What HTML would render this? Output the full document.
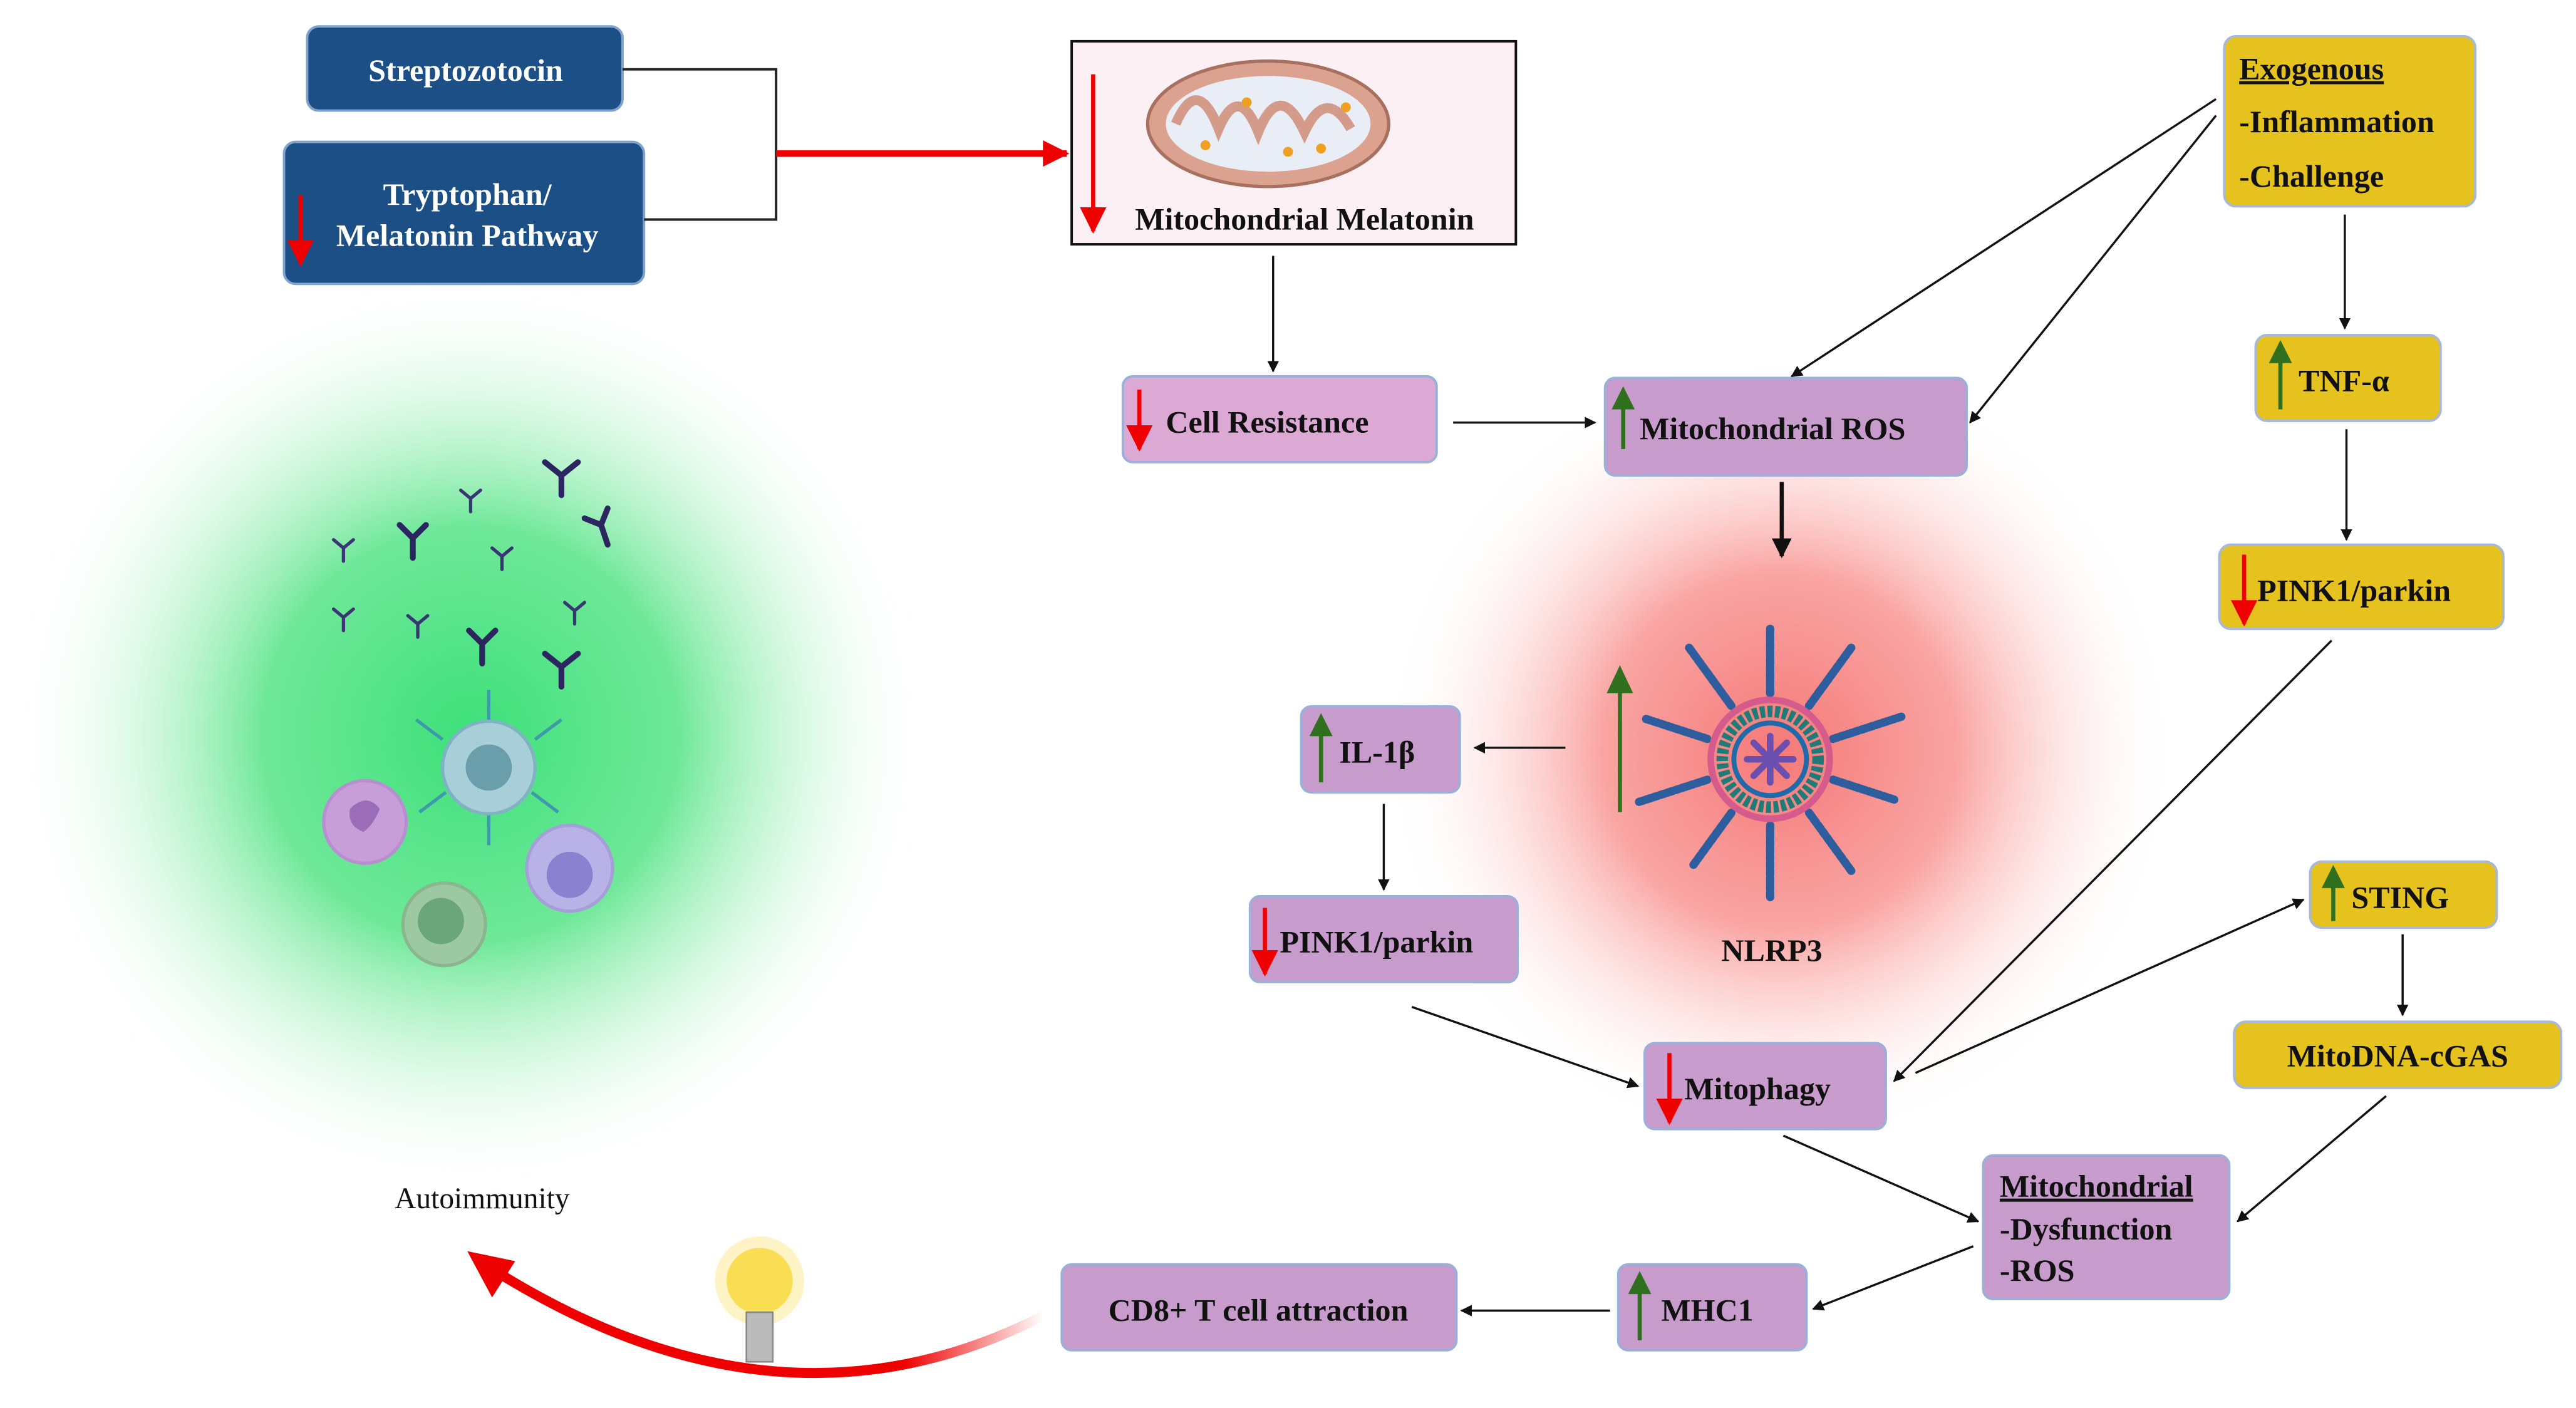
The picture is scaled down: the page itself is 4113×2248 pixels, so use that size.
<!DOCTYPE html>
<html><head><meta charset="utf-8"><style>
html,body{margin:0;padding:0;background:#fff;}
svg{display:block}
text{font-family:"Liberation Serif",serif;}
</style></head><body>
<svg width="4113" height="2248" viewBox="0 0 1560 853" preserveAspectRatio="none" xmlns="http://www.w3.org/2000/svg">
<defs>
<radialGradient id="gg"><stop offset="0" stop-color="#3ee07a"/><stop offset="0.45" stop-color="#6fe898"/><stop offset="1" stop-color="#fff" stop-opacity="0"/></radialGradient>
<radialGradient id="rg"><stop offset="0" stop-color="#f57a78"/><stop offset="0.45" stop-color="#f9a5a3"/><stop offset="1" stop-color="#fff" stop-opacity="0"/></radialGradient>
<linearGradient id="cg" x1="1" y1="0" x2="0" y2="0"><stop offset="0" stop-color="#e00" stop-opacity="0"/><stop offset="0.25" stop-color="#e00"/><stop offset="1" stop-color="#e00"/></linearGradient>
<marker id="a" viewBox="0 0 10 10" refX="9" refY="5" markerWidth="7" markerHeight="7" orient="auto" markerUnits="userSpaceOnUse"><path d="M0,0L10,5L0,10z" fill="#111"/></marker>
<marker id="ab" viewBox="0 0 10 10" refX="9" refY="5" markerWidth="12" markerHeight="12" orient="auto" markerUnits="userSpaceOnUse"><path d="M0,0L10,5L0,10z" fill="#111"/></marker>
<marker id="ar" viewBox="0 0 10 10" refX="9" refY="5" markerWidth="16" markerHeight="16" orient="auto" markerUnits="userSpaceOnUse"><path d="M0,0L10,5L0,10z" fill="#e00"/></marker>
</defs>
<circle cx="285" cy="445" r="280" fill="url(#gg)"/>
<circle cx="1078" cy="455" r="240" fill="url(#rg)"/>

<!-- top-left boxes -->
<rect x="186" y="16" width="191" height="51" rx="7" fill="#1b4f86" stroke="#7fa3cc" stroke-width="1.5"/>
<text x="282" y="49" font-size="19" fill="#fff" text-anchor="middle" font-weight="bold">Streptozotocin</text>
<rect x="172" y="86" width="218" height="86" rx="7" fill="#1b4f86" stroke="#7fa3cc" stroke-width="1.5"/>
<text x="283" y="124" font-size="19" fill="#fff" text-anchor="middle" font-weight="bold">Tryptophan/</text>
<text x="283" y="149" font-size="19" fill="#fff" text-anchor="middle" font-weight="bold">Melatonin Pathway</text>
<line x1="182" y1="118" x2="182" y2="160" stroke="#e00" stroke-width="2.5" marker-end="url(#ar)"/>
<polyline points="377,42 470,42 470,133 390,133" fill="none" stroke="#222" stroke-width="1.5"/>
<line x1="470" y1="93" x2="646" y2="93" stroke="#e00" stroke-width="4" marker-end="url(#ar)"/>

<!-- mito melatonin -->
<rect x="649" y="25" width="269" height="123" fill="#fdf0f5" stroke="#111" stroke-width="1.5"/>
<ellipse cx="768" cy="75" rx="73" ry="38" fill="#dba28f" stroke="#a8705e" stroke-width="2"/>
<ellipse cx="768" cy="75" rx="62" ry="29" fill="#e9eef6"/>
<path d="M712,75 Q725,45 738,78 Q750,50 762,80 Q775,48 790,80 Q803,52 818,78" fill="none" stroke="#d49a8a" stroke-width="6"/>
<g fill="#f0a020"><circle cx="730" cy="88" r="3"/><circle cx="755" cy="62" r="3"/><circle cx="800" cy="90" r="3"/><circle cx="815" cy="65" r="3"/><circle cx="780" cy="92" r="3"/></g>
<line x1="662" y1="45" x2="662" y2="140" stroke="#e00" stroke-width="2.5" marker-end="url(#ar)"/>
<text x="790" y="139" font-size="19" fill="#111" text-anchor="middle" font-weight="bold">Mitochondrial Melatonin</text>

<!-- purple boxes -->
<g stroke="#9ab0d8" stroke-width="1.5">
<rect x="680" y="228" width="190" height="52" rx="6" fill="#dca9d4"/>
<rect x="972" y="229" width="219" height="59" rx="6" fill="#c79bcb"/>
<rect x="788" y="428" width="96" height="52" rx="6" fill="#c79bcb"/>
<rect x="757" y="543" width="162" height="52" rx="6" fill="#c79bcb"/>
<rect x="996" y="632" width="146" height="52" rx="6" fill="#c79bcb"/>
<rect x="1201" y="700" width="149" height="87" rx="6" fill="#c79bcb"/>
<rect x="980" y="766" width="114" height="52" rx="6" fill="#c79bcb"/>
<rect x="643" y="766" width="239" height="52" rx="6" fill="#c79bcb"/>
</g>
<g stroke="#a8b8d8" stroke-width="1.5" fill="#e6c21f">
<rect x="1347" y="22" width="152" height="103" rx="7"/>
<rect x="1366" y="203" width="112" height="52" rx="7"/>
<rect x="1344" y="330" width="172" height="51" rx="7"/>
<rect x="1399" y="522" width="113" height="40" rx="7"/>
<rect x="1353" y="619" width="198" height="40" rx="7"/>
</g>

<g font-size="19" fill="#111" font-weight="bold">
<text x="706" y="262">Cell Resistance</text>
<text x="993" y="266">Mitochondrial ROS</text>
<text x="811" y="462">IL-1β</text>
<text x="775" y="577">PINK1/parkin</text>
<text x="1020" y="666">Mitophagy</text>
<text x="1211" y="725" text-decoration="underline">Mitochondrial</text>
<text x="1211" y="751">-Dysfunction</text>
<text x="1211" y="776">-ROS</text>
<text x="1006" y="800">MHC1</text>
<text x="762" y="800" text-anchor="middle">CD8+ T cell attraction</text>
<text x="1356" y="48" text-decoration="underline">Exogenous</text>
<text x="1356" y="80">-Inflammation</text>
<text x="1356" y="113">-Challenge</text>
<text x="1392" y="237">TNF-α</text>
<text x="1367" y="364">PINK1/parkin</text>
<text x="1424" y="550">STING</text>
<text x="1452" y="646" text-anchor="middle">MitoDNA-cGAS</text>
<text x="1073" y="582" text-anchor="middle">NLRP3</text>
</g>
<text x="292" y="732" font-size="18" fill="#111" text-anchor="middle">Autoimmunity</text>

<!-- up/down small arrows -->
<g stroke-width="2.5">
<line x1="690" y1="236" x2="690" y2="272" stroke="#e00" marker-end="url(#ar)"/>
<line x1="766" y1="550" x2="766" y2="590" stroke="#e00" marker-end="url(#ar)"/>
<line x1="1011" y1="638" x2="1011" y2="680" stroke="#e00" marker-end="url(#ar)"/>
<line x1="1359" y1="336" x2="1359" y2="378" stroke="#e00" marker-end="url(#ar)"/>
</g>
<g stroke-width="2.5" stroke="#2f6f1e">
<line x1="983" y1="272" x2="983" y2="238"/><path d="M976,248L983,234L990,248z" fill="#2f6f1e" stroke="none"/>
<line x1="800" y1="474" x2="800" y2="436"/><path d="M793,446L800,432L807,446z" fill="#2f6f1e" stroke="none"/>
<line x1="1381" y1="248" x2="1381" y2="210"/><path d="M1374,220L1381,206L1388,220z" fill="#2f6f1e" stroke="none"/>
<line x1="1413" y1="558" x2="1413" y2="528"/><path d="M1406,538L1413,524L1420,538z" fill="#2f6f1e" stroke="none"/>
<line x1="993" y1="812" x2="993" y2="774"/><path d="M986,784L993,770L1000,784z" fill="#2f6f1e" stroke="none"/>
<line x1="981" y1="492" x2="981" y2="410"/><path d="M973,420L981,403L989,420z" fill="#2f6f1e" stroke="none"/>
</g>

<!-- connectors -->
<g stroke="#111" stroke-width="1.3" fill="none" marker-end="url(#a)">
<line x1="771" y1="155" x2="771" y2="225"/>
<line x1="880" y1="256" x2="966" y2="256"/>
<line x1="1342" y1="60" x2="1085" y2="228"/>
<line x1="1342" y1="70" x2="1193" y2="256"/>
<line x1="1420" y1="130" x2="1420" y2="199"/>
<line x1="1421" y1="260" x2="1421" y2="327"/>
<line x1="948" y1="453" x2="893" y2="453"/>
<line x1="838" y1="487" x2="838" y2="539"/>
<line x1="855" y1="610" x2="992" y2="658"/>
<line x1="1412" y1="388" x2="1147" y2="655"/>
<line x1="1160" y1="650" x2="1395" y2="545"/>
<line x1="1455" y1="566" x2="1455" y2="615"/>
<line x1="1445" y1="664" x2="1355" y2="740"/>
<line x1="1080" y1="688" x2="1198" y2="740"/>
<line x1="1195" y1="755" x2="1098" y2="793"/>
<line x1="975" y1="794" x2="885" y2="794"/>
</g>
<line x1="1079" y1="292" x2="1079" y2="337" stroke="#111" stroke-width="2.5" marker-end="url(#ab)"/>

<!-- NLRP3 icon -->
<g transform="translate(1072,460)">
<g stroke="#2e5d9e" stroke-width="5" stroke-dasharray="3 1.5" stroke-linecap="round">
<line x1="0" y1="-40" x2="0" y2="-80" transform="rotate(0)"/>
<line x1="0" y1="-40" x2="0" y2="-85" transform="rotate(36)"/>
<line x1="0" y1="-40" x2="0" y2="-85" transform="rotate(72)"/>
<line x1="0" y1="-40" x2="0" y2="-80" transform="rotate(108)"/>
<line x1="0" y1="-40" x2="0" y2="-85" transform="rotate(144)"/>
<line x1="0" y1="-40" x2="0" y2="-85" transform="rotate(180)"/>
<line x1="0" y1="-40" x2="0" y2="-80" transform="rotate(216)"/>
<line x1="0" y1="-40" x2="0" y2="-85" transform="rotate(252)"/>
<line x1="0" y1="-40" x2="0" y2="-80" transform="rotate(288)"/>
<line x1="0" y1="-40" x2="0" y2="-85" transform="rotate(324)"/>
</g>
<circle r="36" fill="none" stroke="#d45b8c" stroke-width="4"/>
<circle r="29" fill="none" stroke="#1f7a78" stroke-width="7" stroke-dasharray="3 1.5"/>
<circle r="22" fill="none" stroke="#1f6aa8" stroke-width="3"/>
<g stroke="#6a4fb0" stroke-width="4" stroke-linecap="round"><line x1="-14" y1="0" x2="14" y2="0"/><line x1="0" y1="-14" x2="0" y2="14"/><line x1="-10" y1="-10" x2="10" y2="10"/><line x1="-10" y1="10" x2="10" y2="-10"/></g>
</g>

<!-- antibodies -->
<g stroke="#2b2660" stroke-width="3.5" fill="none" stroke-linecap="round">
<path d="M340,300 l0,-12 M340,288 l-10,-8 M340,288 l10,-8"/>
<path d="M250,338 l0,-12 m0,0 l-8,-8 m8,8 l8,-8"/>
<path d="M368,330 l-4,-12 m0,0 l-10,-4 m10,4 l4,-10"/>
<path d="M292,402 l0,-12 m0,0 l-8,-8 m8,8 l8,-8"/>
<path d="M340,416 l0,-12 m0,0 l-10,-8 m10,8 l10,-8"/>
</g>
<g stroke="#3a3575" stroke-width="2" fill="none" stroke-linecap="round">
<path d="M208,340 l0,-8 m0,0 l-6,-5 m6,5 l6,-5"/><path d="M285,310 l0,-8 m0,0 l-6,-5 m6,5 l6,-5"/>
<path d="M304,345 l0,-8 m0,0 l-6,-5 m6,5 l6,-5"/><path d="M208,382 l0,-8 m0,0 l-6,-5 m6,5 l6,-5"/>
<path d="M253,386 l0,-8 m0,0 l-6,-5 m6,5 l6,-5"/><path d="M348,378 l0,-8 m0,0 l-6,-5 m6,5 l6,-5"/>
</g>
<!-- cells -->
<g stroke="#3d9aa8" stroke-width="2"><line x1="296" y1="440" x2="296" y2="418"/><line x1="296" y1="490" x2="296" y2="512"/><line x1="268" y1="448" x2="252" y2="436"/><line x1="324" y1="448" x2="340" y2="436"/><line x1="270" y1="480" x2="254" y2="492"/><line x1="322" y1="480" x2="338" y2="492"/></g>
<circle cx="296" cy="465" r="28" fill="#a8cfd8" stroke="#7fb3c2" stroke-width="2"/>
<circle cx="296" cy="465" r="14" fill="#6a9eaa"/>
<circle cx="221" cy="498" r="25" fill="#c79ed8" stroke="#b78fd0" stroke-width="2"/>
<path d="M212,490 q10,-10 18,0 q-4,10 -10,14 q-10,-4 -8,-14z" fill="#9b6cb8"/>
<circle cx="345" cy="526" r="26" fill="#b9b2e6" stroke="#a59ed8" stroke-width="2"/>
<circle cx="345" cy="530" r="14" fill="#8a82d0"/>
<circle cx="269" cy="560" r="25" fill="#9cc8a2" stroke="#89b58f" stroke-width="2"/>
<circle cx="267" cy="558" r="14" fill="#6ba57a"/>

<!-- big red curve -->
<path d="M632,797 Q470,880 292,765" fill="none" stroke="url(#cg)" stroke-width="6"/>
<path d="M283,758 L312,764 L298,786 z" fill="#e00"/>
<!-- bulb -->
<circle cx="460" cy="776" r="20" fill="#f7d21a"/>
<circle cx="460" cy="776" r="27" fill="#fbe88a" opacity="0.5"/>
<rect x="452" y="795" width="16" height="30" fill="#bbb" stroke="#888"/>
</svg>
</body></html>
